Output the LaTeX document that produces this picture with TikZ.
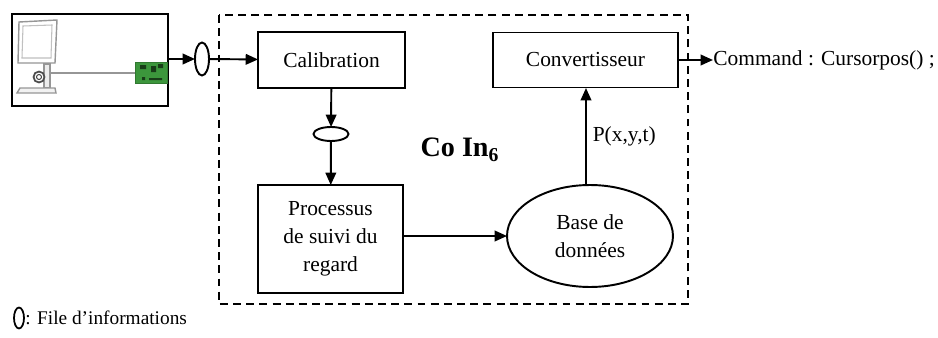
\documentclass[tikz,border=0pt]{standalone}
\usepackage{fontspec}
\setmainfont{Liberation Serif}
\usetikzlibrary{arrows.meta,shapes.geometric}
\definecolor{ecran}{RGB}{150,150,150}
\definecolor{carte}{RGB}{60,150,60}

\begin{document}
\begin{tikzpicture}[x=0.02cm,y=-0.02cm,
	box/.style={draw,line width=1.1pt,inner sep=0pt,outer sep=0pt,align=center,font=\fontsize{12.2}{16}\selectfont},
	file/.style={draw,ellipse,line width=1.1pt,inner sep=0pt,outer sep=0pt},
	fleche/.style={-{Triangle[length=7pt,width=6pt]},line width=1.1pt}]
			\useasboundingbox (0,0) rectangle (938,338);
			
			% bloc CoIn6
			\draw[line width=1.2pt,dash pattern=on 4.5pt off 3pt] (219,15) rectangle (688,304);
			\node[font=\fontsize{16}{18}\selectfont\bfseries] (coin)at(460,150) {Co In\textsubscript{6}};
			
			% poste + camera + carte
			\node[box,minimum width=3.12cm,minimum height=1.84cm] (poste)at(90,60) {};
			\draw[ecran,line width=0.8pt,fill=white] (19,22) -- (57,20) -- (55,63) -- (18,63) -- cycle;
			\draw[ecran!60,line width=0.6pt] (23,26) -- (52,25) -- (51,58) -- (22,58) -- cycle;
			\draw[ecran,line width=0.8pt,fill=gray!15] (44,64) rectangle (50,88);
			\draw[ecran,line width=0.8pt,fill=gray!10] (17,93) -- (20,88) -- (55,88) -- (56,93) -- cycle;
			\draw[black!70,line width=1pt,fill=white] (39,77) circle (5.5);
			\draw[black!70,line width=0.6pt] (39,77) circle (2.5);
			\draw[ecran,line width=1pt] (50,73) -- (135,73);
			\draw[carte!80!black,fill=carte] (135,62) rectangle (167,83);
			\fill[carte!40!black] (140,65) rectangle (146,69) (151,66) rectangle (156,72) (158,64) rectangle (163,68)
				(142,77) rectangle (145,80) (149,78) rectangle (162,80);
			
			% files d'informations
			\node[file,minimum width=0.28cm,minimum height=0.66cm] (f1)at(202,59) {};
			\node[file,minimum width=0.7cm,minimum height=0.28cm] (f2)at(331,134) {};
			
			\node[box,minimum width=2.94cm,minimum height=1.12cm] (calib)at(331.5,60) {Calibration};
			\node[box,minimum width=3.7cm,minimum height=1.1cm] (conv)at(585.5,60) {Convertisseur};
			\node[box,minimum width=2.9cm,minimum height=2.16cm] (suivi)at(330.5,239) {Processus\\de suivi du\\regard};
			\node[box,ellipse,minimum width=3.32cm,minimum height=2.04cm] (base)at(590,236) {Base de\\donn\'ees};
			\node[anchor=west,inner sep=0pt,font=\fontsize{12.2}{14}\selectfont] (cmd)at(713,60) {Command : Cursorpos() ;};
			\coordinate (bh) at (586,185);
			\coordinate (ch) at (586,88);
			
			\draw[fleche] (poste.east|-f1) -- (f1);
			\draw[fleche] (f1) -- (calib);
			\draw[fleche] (calib) -- (f2);
			\draw[fleche] (f2) -- (suivi);
			\draw[fleche] (suivi.east|-base) -- (base);
			\draw[fleche] (bh) -- node[right,font=\fontsize{12.2}{14}\selectfont] {P(x,y,t)} (ch);
			\draw[fleche] (conv) -- (cmd);
			
			% legende
			\node[draw,ellipse,line width=1pt,inner sep=0pt,minimum width=0.2cm,minimum height=0.42cm] (leg)at(19,318) {};
			\node[anchor=west,inner sep=0pt,font=\fontsize{11}{13}\selectfont] (legtxt)at(25,318) {: File d’informations};
		\end{tikzpicture}
\end{document}
